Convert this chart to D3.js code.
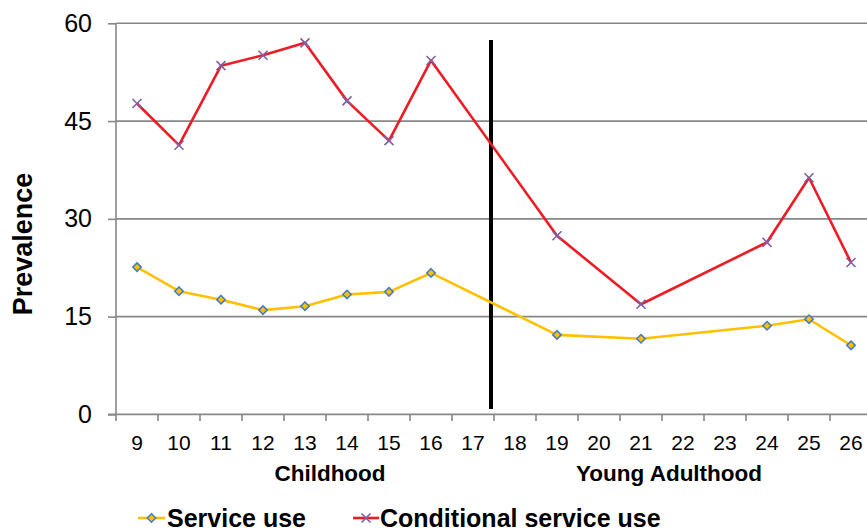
<!DOCTYPE html>
<html>
<head>
<meta charset="utf-8">
<script src="https://cdn.jsdelivr.net/npm/d3@7"></script>
<style>
  html, body { margin: 0; padding: 0; background: #fff; }
  svg { display: block; font-family: "Liberation Sans", Arial, sans-serif; }
</style>
</head>
<body>
<svg id="chart" width="867" height="529"></svg>
<script>
const ages = ["9","10","11","12","13","14","15","16","17","18","19","20","21","22","23","24","25","26"];
const serviceUse  = [22.6, 18.9, 17.6, 16.0, 16.6, 18.4, 18.8, 21.7, null, null, 12.2, null, 11.6, null, null, 13.6, 14.6, 10.6];
const conditional = [47.7, 41.3, 53.5, 55.1, 57.0, 48.1, 42.0, 54.3, null, null, 27.4, null, 16.9, null, null, 26.4, 36.3, 23.3];
const yTicks = [0, 15, 30, 45, 60];
const seriesNames = ["Service use", "Conditional service use"];
const periodLabels = ["Childhood", "Young Adulthood"];

(function () {
const svg = d3.select("#chart");
const pLeft = 116, pRight = 872, pTop = 23.3, pBottom = 414.4;

const x = d3.scaleBand().domain(ages).range([pLeft, pRight]).padding(0);
const y = d3.scaleLinear().domain([0, 60]).range([pBottom, pTop]);
const cx = d => x(d) + x.bandwidth() / 2;

// gridlines
svg.append("g").selectAll("line").data(yTicks.filter(v => v > 0)).join("line")
  .attr("x1", pLeft).attr("x2", pRight)
  .attr("y1", d => y(d)).attr("y2", d => y(d))
  .attr("stroke", "#878787").attr("stroke-width", 1.6);

// y axis
const yAxis = svg.append("g").attr("transform", `translate(${pLeft},0)`)
  .call(d3.axisLeft(y).tickValues(yTicks).tickSize(8).tickPadding(0).tickFormat(d3.format("d")));
yAxis.select(".domain").remove();
yAxis.selectAll(".tick line").attr("stroke", "#878787").attr("stroke-width", 1.6);
yAxis.selectAll(".tick text").attr("x", -24).attr("font-size", 25).attr("fill", "#000")
  .attr("font-family", "'Liberation Sans', Arial, sans-serif");
svg.append("line").attr("x1", pLeft).attr("x2", pLeft).attr("y1", pTop).attr("y2", pBottom + 6.5)
  .attr("stroke", "#878787").attr("stroke-width", 1.6);

// x axis
const xAxis = svg.append("g").attr("transform", `translate(0,${pBottom})`)
  .call(d3.axisBottom(x).tickSize(0).tickPadding(0));
xAxis.select(".domain").remove();
xAxis.selectAll(".tick line").remove();
xAxis.selectAll(".tick text").attr("dy", 0).attr("y", 36).attr("font-size", 21).attr("fill", "#000")
  .attr("font-family", "'Liberation Sans', Arial, sans-serif");
svg.append("line").attr("x1", pLeft - 8).attr("x2", pRight).attr("y1", pBottom).attr("y2", pBottom)
  .attr("stroke", "#878787").attr("stroke-width", 1.6);
svg.append("g").selectAll("line").data(ages.slice(1)).join("line")
  .attr("x1", d => x(d)).attr("x2", d => x(d))
  .attr("y1", pBottom).attr("y2", pBottom + 6.5)
  .attr("stroke", "#878787").attr("stroke-width", 1.6);

// vertical divider between 17 and 18
const divX = x("18") - 3;
svg.append("line").attr("x1", divX).attr("x2", divX).attr("y1", 40).attr("y2", 409)
  .attr("stroke", "#000").attr("stroke-width", 4);

const line = d3.line().x(d => cx(d.age)).y(d => y(d.v));
const mk = vals => ages.map((a, i) => ({age: a, v: vals[i]})).filter(d => d.v != null);
const sData = mk(serviceUse), cData = mk(conditional);

// Service use
svg.append("path").datum(sData).attr("d", line).attr("fill", "none")
  .attr("stroke", "#FFC000").attr("stroke-width", 2.6).attr("stroke-linejoin", "round");
const diamond = (g, px, py) => g.append("path")
  .attr("d", `M${px},${py-4.2}L${px+4.2},${py}L${px},${py+4.2}L${px-4.2},${py}Z`)
  .attr("fill", "#FFC000").attr("stroke", "#4A7EBB").attr("stroke-width", 1.6);
const sg = svg.append("g");
sData.forEach(d => diamond(sg, cx(d.age), y(d.v)));

// Conditional service use
svg.append("path").datum(cData).attr("d", line).attr("fill", "none")
  .attr("stroke", "#ED1C24").attr("stroke-width", 2.6).attr("stroke-linejoin", "round");
const cross = (g, px, py) => g.append("path")
  .attr("d", `M${px-4.5},${py-4.5}L${px+4.5},${py+4.5}M${px-4.5},${py+4.5}L${px+4.5},${py-4.5}`)
  .attr("stroke", "#7F60A8").attr("stroke-width", 1.6).attr("fill", "none");
const cg = svg.append("g");
cData.forEach(d => cross(cg, cx(d.age), y(d.v)));

// y title
svg.append("text").attr("transform", "translate(32,244) rotate(-90)")
  .attr("text-anchor", "middle").attr("font-size", 27).attr("font-weight", "bold").text("Prevalence");

// period labels
svg.append("text").attr("x", 330).attr("y", 481).attr("text-anchor", "middle")
  .attr("font-size", 22.5).attr("font-weight", "bold").text(periodLabels[0]);
svg.append("text").attr("x", 669).attr("y", 481).attr("text-anchor", "middle")
  .attr("font-size", 22.5).attr("font-weight", "bold").text(periodLabels[1]);

// legend
const lg = svg.append("g");
lg.append("line").attr("x1", 138).attr("x2", 165).attr("y1", 518).attr("y2", 518)
  .attr("stroke", "#FFC000").attr("stroke-width", 2.6);
diamond(lg, 151.5, 518);
lg.append("text").attr("x", 167).attr("y", 526.5).attr("font-size", 25).attr("font-weight", "bold").text(seriesNames[0]);
lg.append("line").attr("x1", 353).attr("x2", 379).attr("y1", 518).attr("y2", 518)
  .attr("stroke", "#ED1C24").attr("stroke-width", 2.6);
cross(lg, 366, 518);
lg.append("text").attr("x", 380).attr("y", 526.5).attr("font-size", 25).attr("font-weight", "bold").text(seriesNames[1]);
})();
</script>
</body>
</html>
